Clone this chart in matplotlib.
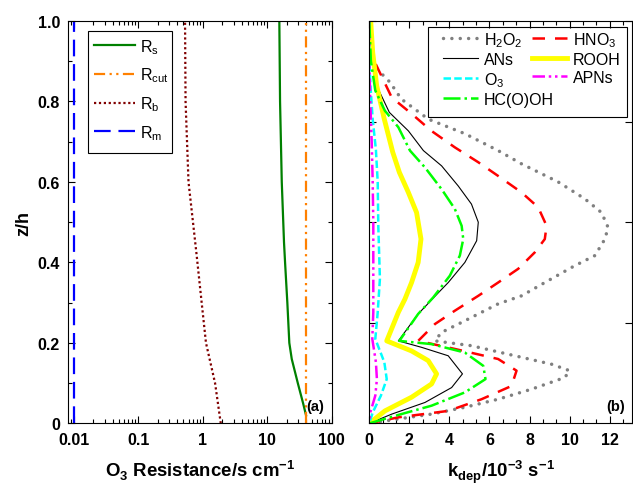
import matplotlib
matplotlib.use("Agg")
import matplotlib.pyplot as plt
from matplotlib.patches import Rectangle
from matplotlib.ticker import FixedLocator, MultipleLocator, LogLocator, NullFormatter, FixedFormatter

plt.rcParams['font.family'] = ['Liberation Sans', 'DejaVu Sans']
plt.rcParams['mathtext.fontset'] = 'custom'
plt.rcParams['mathtext.rm'] = 'Liberation Sans'
plt.rcParams['mathtext.bf'] = 'Liberation Sans:bold'

# ---------------- Panel (a) data ----------------
rm_z = [0.0, 1.0]
rm_val = [0.01, 0.01]
rcut_z = [0.0, 1.0]
rcut_val = [40.0, 40.0]
rb_z = [0.0, 0.1, 0.2, 0.3, 0.42, 0.6, 0.8, 1.0]
rb_val = [1.9, 1.55, 1.12, 0.96, 0.80, 0.60, 0.54, 0.53]
rs_z = [0.02, 0.05, 0.1, 0.16, 0.2, 0.3, 0.4, 0.45, 0.6, 0.8, 1.0]
rs_val = [40.0, 36.0, 29.8, 24.0, 22.0, 20.5, 18.9, 18.2, 16.8, 15.8, 15.4]

# ---------------- Panel (b) data ----------------
h2o2_z = [1.0, 0.92, 0.89, 0.848, 0.806, 0.756, 0.72, 0.678, 0.645, 0.60, 0.558, 0.524,
          0.487, 0.458, 0.417, 0.392, 0.35, 0.317, 0.297, 0.255, 0.226, 0.205, 0.193,
          0.168, 0.147, 0.131, 0.114, 0.085, 0.06, 0.04, 0.023, 0.011, 0.0]
h2o2_k = [0.0, 0.0, 0.2, 1.03, 1.6, 2.95, 4.77, 6.43, 7.6, 9.43, 10.76, 11.59,
          11.92, 11.76, 11.26, 10.26, 8.76, 7.6, 6.43, 4.77, 3.6, 3.28, 5.1,
          7.27, 9.1, 10.0, 9.76, 8.1, 6.43, 4.77, 3.1, 1.45, 0.0]
hno3_z = [1.0, 0.92, 0.914, 0.81, 0.77, 0.727, 0.686, 0.649, 0.615, 0.574, 0.537, 0.491,
          0.458, 0.425, 0.384, 0.35, 0.317, 0.28, 0.247, 0.205, 0.185, 0.16, 0.131,
          0.093, 0.06, 0.031, 0.015, 0.0]
hno3_k = [0.0, 0.0, 0.12, 1.12, 2.1, 3.1, 4.27, 5.44, 6.43, 7.6, 8.43, 8.85,
          8.76, 8.26, 7.43, 6.43, 5.44, 4.27, 3.28, 2.44, 4.27, 6.43, 7.35,
          7.1, 5.6, 3.94, 1.45, 0.0]
ans_z = [1.0, 0.92, 0.839, 0.773, 0.727, 0.678, 0.64, 0.59, 0.545, 0.5, 0.454, 0.4,
         0.35, 0.33, 0.272, 0.205, 0.189, 0.168, 0.123, 0.089, 0.052, 0.023, 0.0]
ans_k = [0.0, 0.1, 0.37, 1.0, 1.95, 2.7, 3.61, 4.44, 5.1, 5.44, 5.36, 4.77,
         3.94, 3.55, 2.44, 1.45, 2.61, 3.94, 4.65, 4.11, 2.78, 1.12, 0.0]
hcooh_z = [1.0, 0.9, 0.827, 0.777, 0.736, 0.678, 0.636, 0.582, 0.533, 0.491, 0.458,
           0.417, 0.367, 0.313, 0.272, 0.205, 0.197, 0.176, 0.143, 0.11, 0.077,
           0.044, 0.021, 0.0]
hcooh_k = [0.0, 0.08, 0.3, 0.78, 1.45, 2.03, 2.78, 3.61, 4.27, 4.61, 4.69,
           4.52, 4.02, 3.19, 2.44, 1.5, 3.11, 4.77, 5.69, 5.8, 4.77,
           3.11, 1.45, 0.0]
rooh_z = [1.0, 0.922, 0.839, 0.756, 0.674, 0.624, 0.574, 0.524, 0.458, 0.4, 0.35,
          0.309, 0.276, 0.205, 0.18, 0.156, 0.123, 0.098, 0.065, 0.031, 0.0]
rooh_k = [0.07, 0.17, 0.37, 0.75, 1.17, 1.5, 1.95, 2.36, 2.58, 2.44, 2.11,
          1.78, 1.45, 0.87, 2.11, 2.94, 3.36, 3.11, 2.11, 0.78, 0.0]
o3_z = [1.0, 0.9, 0.83, 0.756, 0.68, 0.6, 0.49, 0.359, 0.276, 0.21, 0.152, 0.11,
        0.069, 0.027, 0.0]
o3_k = [0.0, 0.0, 0.07, 0.17, 0.33, 0.42, 0.45, 0.53, 0.42, 0.3, 0.75, 0.87,
        0.58, 0.17, 0.0]
apns_z = [1.0, 0.9, 0.8, 0.7, 0.6, 0.5, 0.36, 0.276, 0.21, 0.152, 0.11, 0.069,
          0.027, 0.0]
apns_k = [0.0, 0.0, 0.05, 0.12, 0.17, 0.2, 0.2, 0.2, 0.15, 0.33, 0.38, 0.3,
          0.05, 0.0]

yticks_a = [0.0, 0.2, 0.4, 0.6, 0.8, 1.0]
yticklabels_a = ['0', '0.2', '0.4', '0.6', '0.8', '1.0']
xticks_a = [0.01, 0.1, 1, 10, 100]
xticklabels_a = ['0.01', '0.1', '1', '10', '100']
xticks_b = [0, 2, 4, 6, 8, 10, 12]

W, H = 633.0, 485.0
fig = plt.figure(figsize=(6.33, 4.85), dpi=100)
ax1 = fig.add_axes([0.108, 0.125, 0.416, 0.8296])
ax2 = fig.add_axes([0.5834, 0.125, 0.4146, 0.8296])

# ---- Panel (a)
ax1.plot(rs_val, rs_z, color='#008000', lw=1.6, label=r'R$_\mathregular{s}$')
ax1.plot(rcut_val, rcut_z, color='#FF8000', lw=1.6, dashes=[5, 2, 1, 2, 1, 2],
         label=r'R$_\mathregular{cut}$')
ax1.plot(rb_val, rb_z, color='#800000', lw=1.6, dashes=[1, 1.2], label=r'R$_\mathregular{b}$')
ax1.plot(rm_val, rm_z, color='#0000FF', lw=1.6, dashes=[7.5, 3.5], label=r'R$_\mathregular{m}$')
ax1.set_xscale('log')
ax1.set_xlim(0.0082, 100)
ax1.set_ylim(0, 1)
ax1.xaxis.set_major_locator(FixedLocator(xticks_a))
ax1.xaxis.set_major_formatter(FixedFormatter(xticklabels_a))
ax1.xaxis.set_minor_locator(LogLocator(base=10, subs=range(2, 10)))
ax1.xaxis.set_minor_formatter(NullFormatter())
ax1.yaxis.set_major_locator(FixedLocator(yticks_a))
ax1.yaxis.set_major_formatter(FixedFormatter(yticklabels_a))
ax1.yaxis.set_minor_locator(MultipleLocator(0.1))
ax1.set_xlabel(r'O$_\mathregular{3}$ Resistance/s cm$^\mathregular{-1}$', fontsize=13.4,
               fontweight='bold', labelpad=8)
ax1.set_ylabel('z/h', fontsize=13, fontweight='bold', labelpad=4)
leg1 = ax1.legend(loc='upper left', bbox_to_anchor=(94 / W, 1 - 38 / H),
                  bbox_transform=fig.transFigure, fontsize=11.5, frameon=False,
                  handlelength=2.57, borderpad=0, labelspacing=0.62, handletextpad=0.3,
                  borderaxespad=0)
fig.patches.append(Rectangle((88.3 / W, 1 - 154.3 / H), 83.4 / W, 122.6 / H,
                             transform=fig.transFigure, fill=False, edgecolor='black',
                             lw=0.8, zorder=10))
ax1.text(0.97, 0.025, '(a)', transform=ax1.transAxes, ha='right', va='bottom',
         fontsize=10.5, fontweight='bold')

# ---- Panel (b)
l_h2o2, = ax2.plot(h2o2_k, h2o2_z, color='#808080', lw=2.5, dashes=[0.01, 2.4],
                   dash_capstyle='round', label=r'H$_\mathregular{2}$O$_\mathregular{2}$')
l_hno3, = ax2.plot(hno3_k, hno3_z, color='#FF0000', lw=1.8, dashes=[5, 4], label=r'HNO$_\mathregular{3}$')
l_ans, = ax2.plot(ans_k, ans_z, color='black', lw=0.8, label='ANs')
l_rooh, = ax2.plot(rooh_k, rooh_z, color='#FFFF00', lw=3.5, label='ROOH')
l_o3, = ax2.plot(o3_k, o3_z, color='#00FFFF', lw=1.8, dashes=[3, 1.3], label=r'O$_\mathregular{3}$')
l_apns, = ax2.plot(apns_k, apns_z, color='#FF00FF', lw=1.8, dashes=[5, 1.5, 1, 1.5, 1, 1.5], label='APNs')
l_hcooh, = ax2.plot(hcooh_k, hcooh_z, color='#00FF00', lw=1.8, dashes=[6.8, 1.6, 1, 1.6], label='HC(O)OH')
ax2.set_xlim(0, 13.1)
ax2.set_ylim(0, 1)
ax2.xaxis.set_major_locator(FixedLocator(xticks_b))
ax2.xaxis.set_minor_locator(MultipleLocator(2.0 / 3.0))
ax2.yaxis.set_major_locator(MultipleLocator(0.25))
ax2.set_yticklabels([])
ax2.set_xlabel(r'k$_\mathregular{dep}$/10$^\mathregular{-3}$ s$^\mathregular{-1}$', fontsize=13.4,
               fontweight='bold', labelpad=8)
handles = [l_h2o2, l_ans, l_o3, l_hcooh, l_hno3, l_rooh, l_apns]
leg2 = ax2.legend(handles=handles, loc='upper left', bbox_to_anchor=(442.7 / W, 1 - 31 / H),
                  bbox_transform=fig.transFigure, ncol=2, fontsize=11.5, frameon=False,
                  handlelength=2.2, borderpad=0, labelspacing=0.2, handletextpad=0.38,
                  columnspacing=-1.38, borderaxespad=0)
fig.patches.append(Rectangle((427.7 / W, 1 - 117.7 / H), 199.6 / W, 89.4 / H,
                             transform=fig.transFigure, fill=False, edgecolor='black',
                             lw=0.8, zorder=10))
ax2.text(0.975, 0.025, '(b)', transform=ax2.transAxes, ha='right', va='bottom',
         fontsize=10.5, fontweight='bold')

for ax in (ax1, ax2):
    ax.tick_params(which='both', direction='in', top=True, right=True, width=0.8)
    ax.tick_params(which='major', length=5, labelsize=11.5, pad=6)
    ax.tick_params(which='minor', length=3)
    for lab in ax.get_xticklabels() + ax.get_yticklabels():
        lab.set_fontweight('bold')
    for s in ax.spines.values():
        s.set_linewidth(0.8)

fig.savefig('out.png', dpi=100)
